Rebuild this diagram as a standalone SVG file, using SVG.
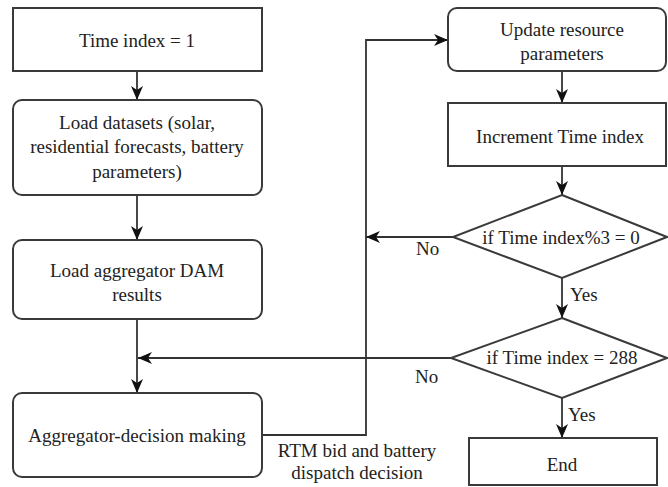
<svg xmlns="http://www.w3.org/2000/svg" width="668" height="487" viewBox="0 0 668 487" font-family="'Liberation Serif', 'Times New Roman', 'DejaVu Serif', serif">
  <style>
    .box { fill: #ffffff; stroke: #3a3a3a; stroke-width: 2; }
    .lbl { font-size: 19px; fill: #222222; text-anchor: middle; }
    .tag { font-size: 19px; fill: #222222; }
    .wire { fill: none; stroke: #333333; stroke-width: 1.8; }
  </style>
  <defs>
    <marker id="arrow" markerUnits="userSpaceOnUse" markerWidth="14" markerHeight="12" refX="14" refY="6" orient="auto">
      <path d="M0,0 L14,6 L0,12 L4,6 z" fill="#111111"/>
    </marker>
  </defs>
  <rect width="668" height="487" fill="#ffffff"/>

  <!-- connectors -->
  <g id="connectors">
    <path class="wire" d="M137,71 V100" marker-end="url(#arrow)"/>
    <path class="wire" d="M137,195 V240" marker-end="url(#arrow)"/>
    <path class="wire" d="M137,319 V393" marker-end="url(#arrow)"/>
    <path class="wire" d="M262,435 H366 V40 H448" marker-end="url(#arrow)"/>
    <path class="wire" d="M562,71 V103" marker-end="url(#arrow)"/>
    <path class="wire" d="M562,166 V195" marker-end="url(#arrow)"/>
    <path class="wire" d="M453,237 H366" marker-end="url(#arrow)"/>
    <path class="wire" d="M562,278 V318" marker-end="url(#arrow)"/>
    <path class="wire" d="M451,358 H138" marker-end="url(#arrow)"/>
    <path class="wire" d="M562,398 V438" marker-end="url(#arrow)"/>
    <text class="tag" x="416" y="255">No</text>
    <text class="tag" x="415" y="383">No</text>
    <text class="tag" x="570" y="301">Yes</text>
    <text class="tag" x="568" y="421">Yes</text>
    <text class="lbl" x="357" y="457">RTM bid and battery</text>
    <text class="lbl" x="357" y="479">dispatch decision</text>
  </g>

  <g id="start">
    <rect class="box" x="13" y="8" width="249" height="63"/>
    <text class="lbl" x="137" y="47">Time index = 1</text>
  </g>

  <g id="load-datasets">
    <rect class="box" x="13" y="100" width="249" height="95" rx="9"/>
    <text class="lbl" x="137" y="129">Load datasets (solar,</text>
    <text class="lbl" x="137" y="153">residential forecasts, battery</text>
    <text class="lbl" x="137" y="178">parameters)</text>
  </g>

  <g id="load-dam">
    <rect class="box" x="13" y="240" width="249" height="79" rx="9"/>
    <text class="lbl" x="137" y="277">Load aggregator DAM</text>
    <text class="lbl" x="137" y="301">results</text>
  </g>

  <g id="decision-making">
    <rect class="box" x="13" y="393" width="249" height="84" rx="9"/>
    <text class="lbl" x="137" y="442">Aggregator-decision making</text>
  </g>

  <g id="update-params">
    <rect class="box" x="448" y="8" width="218" height="63" rx="9"/>
    <text class="lbl" x="562" y="36">Update resource</text>
    <text class="lbl" x="562" y="60">parameters</text>
  </g>

  <g id="increment">
    <rect class="box" x="448" y="103" width="218" height="63"/>
    <text class="lbl" x="560" y="143">Increment Time index</text>
  </g>

  <g id="check-mod">
    <polygon class="box" points="562,195 667,237 562,278 453,237"/>
    <text class="lbl" x="561" y="244">if Time index%3 = 0</text>
  </g>

  <g id="check-end">
    <polygon class="box" points="562,318 667,358 562,398 451,358"/>
    <text class="lbl" x="562" y="364">if Time index = 288</text>
  </g>

  <g id="end">
    <rect class="box" x="469" y="438" width="188" height="47"/>
    <text class="lbl" x="562" y="471">End</text>
  </g>
</svg>
